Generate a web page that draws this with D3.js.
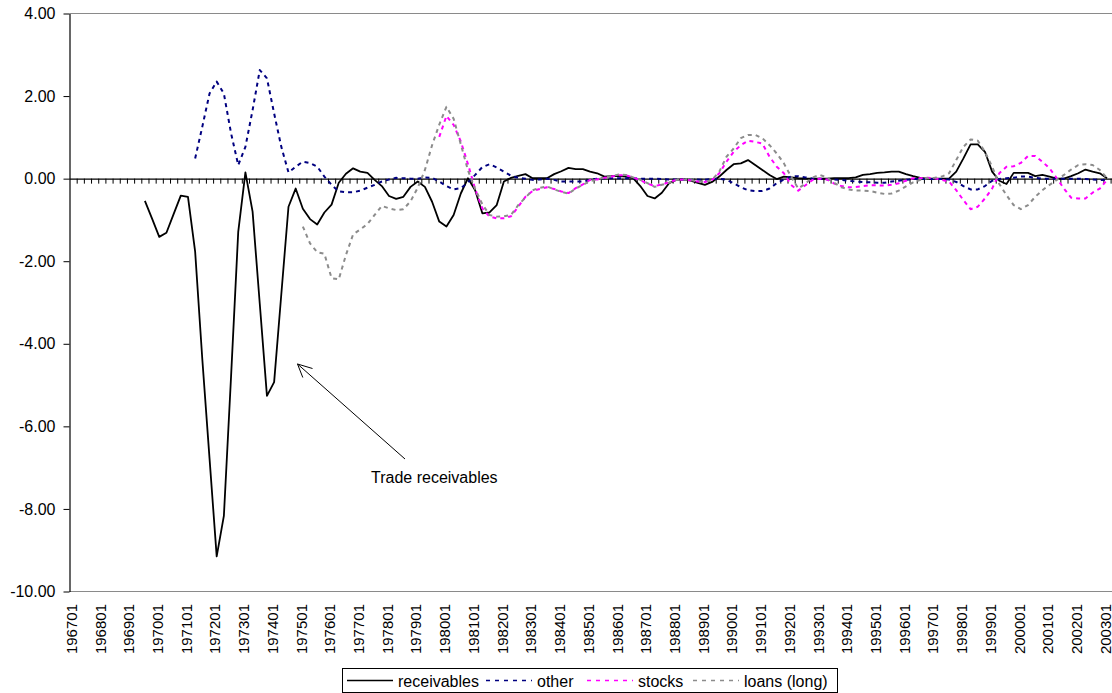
<!DOCTYPE html>
<html>
<head>
<meta charset="utf-8">
<script src="https://cdn.jsdelivr.net/npm/d3@7"></script>
<style>
  html, body { margin: 0; padding: 0; background: #fff; }
  svg { display: block; font-family: "Liberation Sans", Arial, sans-serif; }
</style>
</head>
<body>
<svg id="chart" width="1112" height="693"></svg>
<script>
// ---- Data ----
const firstYear = 1967, lastYear = 2003;          // quarterly categories 196701 .. 200301
const yTicks = [-10, -8, -6, -4, -2, 0, 2, 4];
const seriesNames = ["receivables", "other", "stocks", "loans (long)"];

// each series starts at the given quarter label
const receivablesStart = "196903";
const receivables = [-0.54,-0.97,-1.41,-1.31,-0.86,-0.41,-0.44,-1.77,-4.38,-6.77,
  -9.15,-8.17,-4.8,-1.29,0.15,-0.80,-3.03,-5.26,-4.93,-2.80,
  -0.68,-0.24,-0.73,-0.98,-1.11,-0.82,-0.63,-0.10,0.12,0.25,
  0.17,0.14,-0.03,-0.18,-0.42,-0.49,-0.44,-0.20,-0.07,-0.20,
  -0.56,-1.04,-1.16,-0.88,-0.36,0.01,-0.28,-0.84,-0.82,-0.64,
  -0.07,0.02,0.07,0.11,0.01,0.01,0.01,0.11,0.18,0.26,
  0.23,0.23,0.17,0.13,0.05,0.06,0.06,0.05,0.01,-0.18,
  -0.42,-0.48,-0.34,-0.11,-0.03,-0.02,-0.05,-0.10,-0.15,-0.08,
  0.05,0.21,0.35,0.37,0.45,0.33,0.21,0.09,-0.01,0.05,
  0.03,0.01,0,0,0,0,0.01,0.01,0.01,0.03,
  0.09,0.11,0.14,0.15,0.17,0.17,0.11,0.06,0.02,0,
  0,0,0,0.17,0.49,0.83,0.83,0.65,0.17,-0.05,
  -0.13,0.14,0.14,0.14,0.06,0.09,0.05,0,0,0.06,
  0.13,0.22,0.17,0.13,0.01];

const otherStart = "197102";
const other = [0.49,1.26,2.06,2.35,2.06,1.10,0.33,0.77,1.66,2.63,
  2.43,1.58,0.77,0.15,0.29,0.41,0.38,0.29,0.05,-0.15,
  -0.31,-0.33,-0.33,-0.29,-0.22,-0.15,-0.07,-0.02,0.02,0.01,
  0,0,0.03,0.02,-0.07,-0.18,-0.26,-0.23,-0.09,0.09,
  0.28,0.35,0.27,0.17,0.07,0.02,0,-0.03,-0.02,0,
  -0.03,-0.07,-0.07,-0.07,-0.07,-0.03,0,0.01,0.01,0.01,
  0.01,0.01,0,0,0,-0.01,-0.02,-0.02,-0.02,-0.03,
  -0.02,-0.03,0,0,-0.03,-0.11,-0.21,-0.28,-0.30,-0.30,
  -0.24,-0.11,-0.02,0.05,0.06,0.03,0,0,-0.02,-0.02,
  -0.03,-0.05,-0.07,-0.08,-0.09,-0.10,-0.10,-0.07,-0.05,-0.03,
  -0.01,-0.01,-0.01,-0.01,-0.01,-0.02,-0.08,-0.18,-0.26,-0.26,
  -0.18,-0.05,-0.01,0.01,0.02,0.05,0.05,0.02,0,0,
  0,0,0,0,-0.01,-0.02,-0.03,-0.03];

const stocksStart = "197904";
const stocks = [1.01,1.52,1.30,0.90,0.35,-0.25,-0.72,-0.92,-0.96,-0.96,
  -0.91,-0.68,-0.44,-0.30,-0.25,-0.21,-0.25,-0.31,-0.35,-0.23,
  -0.14,-0.03,-0.02,0.02,0.05,0.08,0.08,0.03,-0.04,-0.12,
  -0.18,-0.14,-0.09,-0.03,-0.02,-0.04,-0.07,-0.08,-0.03,0.13,
  0.41,0.65,0.81,0.92,0.89,0.85,0.53,0.29,0.13,-0.15,
  -0.29,-0.16,-0.03,0,-0.02,-0.12,-0.18,-0.21,-0.20,-0.18,
  -0.16,-0.16,-0.17,-0.15,-0.11,-0.05,0.01,0.01,0.02,0.01,
  -0.03,-0.07,-0.28,-0.52,-0.74,-0.68,-0.48,-0.24,0.13,0.29,
  0.30,0.38,0.55,0.55,0.41,0.25,0.01,-0.24,-0.46,-0.48,
  -0.48,-0.34,-0.24,-0.03];

const loansStart = "197501";
const loans = [-1.16,-1.57,-1.78,-1.82,-2.41,-2.44,-1.85,-1.35,-1.23,-1.10,
  -0.88,-0.66,-0.72,-0.76,-0.74,-0.55,-0.22,0.21,0.81,1.31,
  1.74,1.45,0.83,0.20,-0.25,-0.62,-0.88,-0.92,-0.91,-0.88,
  -0.64,-0.46,-0.28,-0.22,-0.19,-0.26,-0.32,-0.36,-0.24,-0.15,
  -0.06,-0.02,0.03,0.06,0.10,0.09,0.03,-0.03,-0.11,-0.20,
  -0.15,-0.10,-0.03,-0.02,-0.03,-0.07,-0.08,-0.03,0.17,0.53,
  0.73,0.98,1.06,1.06,0.98,0.81,0.61,0.37,0.05,-0.24,
  -0.12,0.03,0.09,0.03,-0.10,-0.21,-0.26,-0.29,-0.29,-0.30,
  -0.34,-0.37,-0.36,-0.29,-0.19,-0.09,-0.03,0.01,0.02,0.05,
  0.13,0.45,0.77,0.95,0.92,0.65,0.29,-0.13,-0.40,-0.64,
  -0.74,-0.64,-0.44,-0.28,-0.15,-0.03,0.09,0.22,0.33,0.35,
  0.33,0.21,0.01];

// ---- Categories ----
const categories = [];
for (let y = firstYear; y <= lastYear; y++) {
  for (let q = 1; q <= 4; q++) {
    if (y === lastYear && q > 1) break;
    categories.push(String(y) + "0" + q);
  }
}

// ---- Layout ----
const svg = d3.select("#chart");
const plotLeft = 69.5, plotRight = 1110.6, plotTop = 13.5, plotBottom = 591.5;
const FONT = "16px";

const x = d3.scaleBand().domain(categories).range([plotLeft, plotRight]).padding(0);
const xEdge = d3.scaleLinear().domain([0, categories.length]).range([plotLeft, plotRight]);
const y = d3.scaleLinear().domain([-10, 4]).range([plotBottom, plotTop]);
const cx = c => x(c) + x.bandwidth() / 2;

// plot border (top & bottom in gray)
svg.append("line").attr("x1", plotLeft).attr("x2", 1112).attr("y1", plotTop).attr("y2", plotTop)
  .attr("stroke", "#8a8a8a").attr("stroke-width", 1.2);
svg.append("line").attr("x1", plotLeft).attr("x2", 1112).attr("y1", plotBottom).attr("y2", plotBottom)
  .attr("stroke", "#8a8a8a").attr("stroke-width", 1.2);

// Y axis
const yAxis = d3.axisLeft(y).tickValues(yTicks).tickFormat(d => d.toFixed(2))
  .tickSize(6).tickSizeOuter(0).tickPadding(8);
const gy = svg.append("g").attr("transform", `translate(${plotLeft},0)`).call(yAxis);
gy.select(".domain").attr("stroke", "#000").attr("stroke-width", 1.2);
gy.selectAll(".tick line").attr("stroke", "#000");
gy.selectAll("text").attr("font-size", FONT).attr("fill", "#000")
  .attr("font-family", "'Liberation Sans', Arial, sans-serif");

// X axis at zero, ticks at category boundaries
const xAxis = d3.axisBottom(xEdge).tickValues(d3.range(1, categories.length + 1))
  .tickFormat("").tickSize(5).tickSizeOuter(0);
const gx = svg.append("g").attr("transform", `translate(0,${y(0)})`).call(xAxis);
gx.select(".domain").attr("d", `M${plotLeft},0.5H1112`).attr("stroke", "#000").attr("stroke-width", 1.2);
gx.selectAll(".tick line").attr("stroke", "#000");

// X labels (every 4th quarter) rotated at the bottom
svg.append("g").selectAll("text")
  .data(categories.filter((c, i) => i % 4 === 0))
  .join("text")
  .attr("transform", d => `translate(${cx(d) - 1.5},604) rotate(-90)`)
  .attr("text-anchor", "end")
  .attr("dy", "0.35em")
  .attr("font-size", "15px")
  .attr("fill", "#000")
  .text(d => d);

// ---- Series ----
function toPoints(start, vals) {
  const s = categories.indexOf(start);
  return vals.map((v, k) => ({ c: categories[s + k], v }));
}
const series = [
  { name: seriesNames[0], pts: toPoints(receivablesStart, receivables), color: "#000000", width: 1.8, dash: null },
  { name: seriesNames[1], pts: toPoints(otherStart, other), color: "#000080", width: 2, dash: "4,4" },
  { name: seriesNames[2], pts: toPoints(stocksStart, stocks), color: "#ff00ff", width: 2, dash: "4,4" },
  { name: seriesNames[3], pts: toPoints(loansStart, loans), color: "#8c8c8c", width: 2, dash: "4,4" }
];
const line = d3.line().x(d => cx(d.c)).y(d => y(d.v));
svg.append("g").selectAll("path").data(series).join("path")
  .attr("d", d => line(d.pts))
  .attr("fill", "none")
  .attr("stroke", d => d.color)
  .attr("stroke-width", d => d.width)
  .attr("stroke-dasharray", d => d.dash)
  .attr("stroke-linejoin", "round");

// ---- Annotation ----
const ann = svg.append("g");
ann.append("line").attr("x1", 405).attr("y1", 459).attr("x2", 297.5).attr("y2", 364)
  .attr("stroke", "#000").attr("stroke-width", 1);
ann.append("path").attr("d", "M312.5,368.5L297.5,364L302.8,377.5")
  .attr("fill", "none").attr("stroke", "#000").attr("stroke-width", 1);
ann.append("text").attr("x", 371).attr("y", 483).attr("font-size", FONT).attr("fill", "#000")
  .text("Trade receivables");

// ---- Legend ----
const lg = svg.append("g");
lg.append("rect").attr("x", 342.5).attr("y", 668.5).attr("width", 495).attr("height", 24)
  .attr("fill", "#fff").attr("stroke", "#000").attr("stroke-width", 1);
const legendX = [347, 486, 587, 693];
series.forEach((s, i) => {
  lg.append("line").attr("x1", legendX[i]).attr("x2", legendX[i] + 46)
    .attr("y1", 680.5).attr("y2", 680.5)
    .attr("stroke", s.color).attr("stroke-width", 1.5)
    .attr("stroke-dasharray", s.dash ? "4,5" : null);
  lg.append("text").attr("x", legendX[i] + 51).attr("y", 686.5)
    .attr("font-size", FONT).attr("fill", "#000").text(s.name);
});
</script>
</body>
</html>
